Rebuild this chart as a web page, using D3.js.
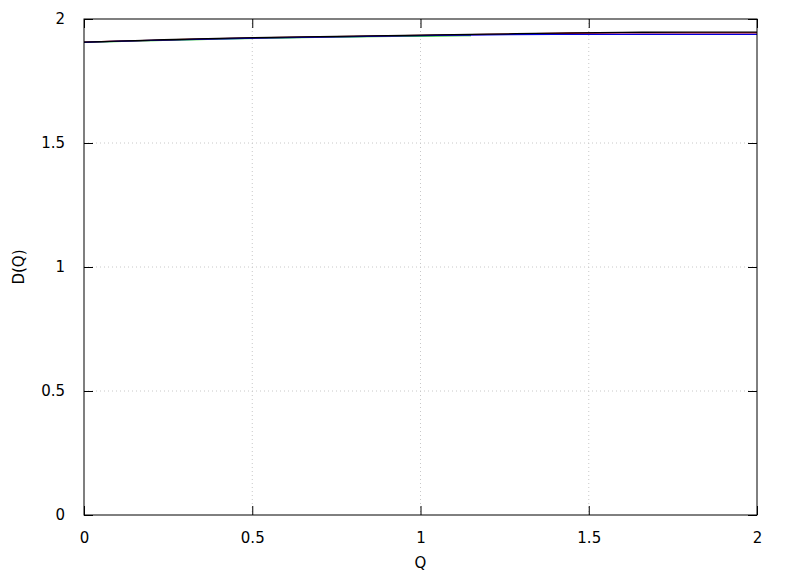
<!DOCTYPE html>
<html><head><meta charset="utf-8">
<script src="https://cdn.jsdelivr.net/npm/d3@7"></script>
<style>body{margin:0;background:#fff}text{font-family:"DejaVu Sans",sans-serif;}</style>
</head><body><svg id="c" width="788" height="576"></svg>
<script>
const xTicks = [0, 0.5, 1, 1.5, 2];
const yTicks = [0, 0.5, 1, 1.5, 2];
const qBlack = [0, 0.2, 0.4, 0.6, 0.8, 1.0, 1.2, 1.4, 1.6, 1.8, 2.0];
const dBlack = [1.907, 1.915, 1.922, 1.927, 1.931, 1.935, 1.939, 1.943, 1.946, 1.947, 1.947];
const qRed = [0, 0.2, 0.4, 0.6, 0.8, 1.0, 1.2, 1.4, 1.6, 1.8, 2.0];
const dRed = [1.907, 1.914, 1.921, 1.926, 1.930, 1.934, 1.938, 1.942, 1.944, 1.944, 1.944];
const qBlue = [0, 0.2, 0.4, 0.6, 0.8, 1.0, 1.2, 1.4, 1.6, 1.8, 2.0];
const dBlue = [1.906, 1.914, 1.920, 1.925, 1.929, 1.933, 1.936, 1.938, 1.938, 1.938, 1.938];
const qGreen = [0, 0.2, 0.4, 0.6, 0.8, 1.0, 1.15];
const dGreen = [1.906, 1.913, 1.919, 1.924, 1.928, 1.931, 1.933];

const series = [
  {q: qGreen, d: dGreen, color: "#00c000"},
  {q: qRed, d: dRed, color: "#e00000"},
  {q: qBlue, d: dBlue, color: "#0000e0"},
  {q: qBlack, d: dBlack, color: "#000000"}
];

const svg = d3.select("#c");
const L = 84, R = 757, T = 19, B = 515;
const x = d3.scaleLinear().domain([0, 2]).range([L, R]);
const y = d3.scaleLinear().domain([0, 2]).range([B, T]);

const g = svg.append("g");
// grid
g.selectAll(".gx").data(xTicks.slice(1, -1)).join("line")
  .attr("x1", d => x(d)).attr("x2", d => x(d)).attr("y1", T).attr("y2", B)
  .attr("stroke", "#c8c8c8").attr("stroke-width", 1).attr("stroke-dasharray", "1,3");
g.selectAll(".gy").data(yTicks.slice(1, -1)).join("line")
  .attr("y1", d => y(d)).attr("y2", d => y(d)).attr("x1", L).attr("x2", R)
  .attr("stroke", "#c8c8c8").attr("stroke-width", 1).attr("stroke-dasharray", "1,3");

// axes with inward ticks
const tl = 9;
svg.append("g").attr("transform", `translate(0,${B})`)
  .call(d3.axisBottom(x).tickValues(xTicks).tickFormat(d3.format("")).tickSizeInner(-tl).tickSizeOuter(0).tickPadding(17))
  .call(a => a.select(".domain").remove());
svg.append("g").attr("transform", `translate(0,${T})`)
  .call(d3.axisTop(x).tickValues(xTicks).tickFormat("").tickSizeInner(-tl).tickSizeOuter(0))
  .call(a => a.select(".domain").remove());
svg.append("g").attr("transform", `translate(${L},0)`)
  .call(d3.axisLeft(y).tickValues(yTicks).tickFormat(d3.format("")).tickSizeInner(-tl).tickSizeOuter(0).tickPadding(19))
  .call(a => a.select(".domain").remove());
svg.append("g").attr("transform", `translate(${R},0)`)
  .call(d3.axisRight(y).tickValues(yTicks).tickFormat("").tickSizeInner(-tl).tickSizeOuter(0))
  .call(a => a.select(".domain").remove());
svg.selectAll(".tick text").attr("font-size", 15).attr("font-family", "'DejaVu Sans',sans-serif").attr("fill", "#000");
svg.selectAll(".tick line").attr("stroke", "#000");

// lines
const line = d3.line().curve(d3.curveMonotoneX);
series.forEach(s => {
  svg.append("path")
    .attr("d", line(s.q.map((q, i) => [x(q), y(s.d[i])])))
    .attr("fill", "none").attr("stroke", s.color).attr("stroke-width", 1.3);
});

// frame
svg.append("rect").attr("x", L).attr("y", T).attr("width", R - L).attr("height", B - T)
  .attr("fill", "none").attr("stroke", "#000").attr("stroke-width", 1);

svg.append("text").attr("x", (L + R) / 2).attr("y", 568).attr("text-anchor", "middle")
  .attr("font-size", 15).text("Q");
svg.append("text").attr("transform", `translate(24,${(T + B) / 2}) rotate(-90)`)
  .attr("text-anchor", "middle").attr("font-size", 15).text("D(Q)");
</script></body></html>
